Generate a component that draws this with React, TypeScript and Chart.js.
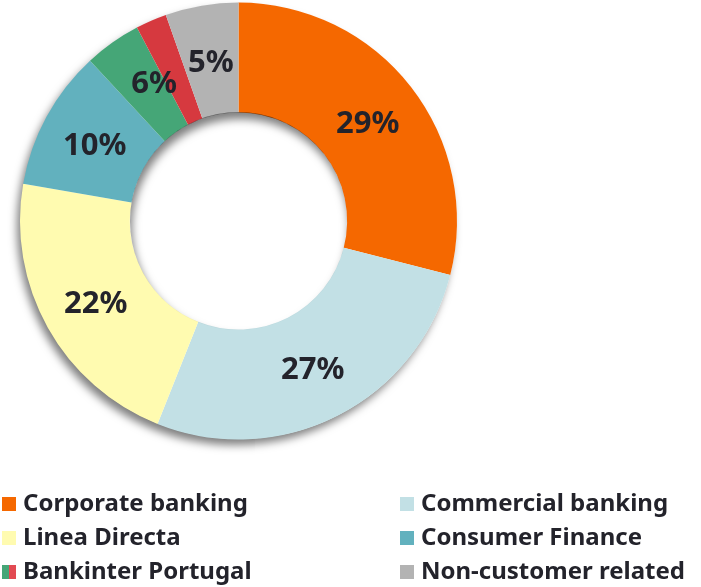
import React, { useEffect, useRef, useState } from "react";
import { Chart, registerables } from "chart.js";

Chart.register(...registerables);

// ---- Data ----
const sliceNames = [
  "Corporate banking",
  "Commercial banking",
  "Linea Directa",
  "Consumer Finance",
  "Bankinter Portugal (1)",
  "Bankinter Portugal (2)",
  "Non-customer related",
];
const sliceValues = [29, 27.1, 21.7, 10.4, 4.2, 2.3, 5.4];
const sliceColors = ["#F56800", "#C2E0E5", "#FFFBB0", "#62B1BE", "#45A677", "#D6393F", "#B3B3B3"];

const labelGroups = [[0], [1], [2], [3], [4, 5], [6]];
const groupLabels = ["29%", "27%", "22%", "10%", "6%", "5%"];

const legendNames = [
  "Corporate banking",
  "Commercial banking",
  "Linea Directa",
  "Consumer Finance",
  "Bankinter Portugal",
  "Non-customer related",
];
const legendColors = [["#F56800"], ["#C2E0E5"], ["#FFFBB0"], ["#62B1BE"], ["#45A677", "#E24A52"], ["#B3B3B3"]];

const FONT = '"Noto Sans", "DejaVu Sans", sans-serif';
const TEXT_COLOR = "#23232B";

const decorPlugin = {
  id: "decor",
  afterDatasetsDraw(chart: any) {
    const ctx = chart.ctx as CanvasRenderingContext2D;
    const arcs = chart.getDatasetMeta(0).data as any[];
    const a = arcs[0];
    if (!a) return;
    const x = a.x;
    const y = a.y;
    const rMid = (a.outerRadius + a.innerRadius) / 2;

    // percentage labels
    ctx.save();
    ctx.font = "bold 31px " + FONT;
    ctx.fillStyle = TEXT_COLOR;
    ctx.textAlign = "center";
    ctx.textBaseline = "alphabetic";
    labelGroups.forEach((grp, i) => {
      const a0 = arcs[grp[0]].startAngle;
      const a1 = arcs[grp[grp.length - 1]].endAngle;
      const mid = (a0 + a1) / 2;
      ctx.fillText(groupLabels[i], x + Math.cos(mid) * rMid, y + Math.sin(mid) * rMid + 12);
    });
    ctx.restore();

    // legend
    ctx.save();
    ctx.font = "bold 24px " + FONT;
    ctx.textAlign = "left";
    ctx.textBaseline = "alphabetic";
    const colX = [2, 400];
    const rowBase = [511, 545, 579];
    legendNames.forEach((name, i) => {
      const col = i % 2;
      const row = Math.floor(i / 2);
      const mx = colX[col];
      const my = rowBase[row] - 14;
      const cols = legendColors[i];
      const w = 14 / cols.length;
      cols.forEach((c, k) => {
        ctx.fillStyle = c;
        ctx.fillRect(mx + k * w, my, w, 14);
      });
      ctx.fillStyle = TEXT_COLOR;
      ctx.fillText(name, mx + 21, rowBase[row]);
    });
    ctx.restore();
  },
};

type Geo = { x: number; y: number; R: number; ri: number };

export default function App() {
  const canvasRef = useRef<HTMLCanvasElement | null>(null);
  const [geo, setGeo] = useState<Geo | null>(null);

  useEffect(() => {
    document.body.style.margin = "0";
    if (!canvasRef.current) return;
    const chart = new Chart(canvasRef.current, {
      type: "doughnut",
      data: {
        labels: sliceNames,
        datasets: [{ data: sliceValues, backgroundColor: sliceColors, borderWidth: 0 }],
      },
      options: {
        animation: false,
        responsive: true,
        maintainAspectRatio: false,
        cutout: "49.7%",
        layout: { padding: { left: 20, top: 2.5, right: 244, bottom: 147.5 } },
        plugins: { legend: { display: false }, tooltip: { enabled: false } },
      },
      plugins: [decorPlugin],
    });
    const a = chart.getDatasetMeta(0).data[0] as any;
    if (a) setGeo({ x: a.x, y: a.y, R: a.outerRadius, ri: a.innerRadius });
    return () => chart.destroy();
  }, []);

  return (
    <div style={{ position: "relative", width: 701, height: 587 }}>
      {geo && (
        <div
          style={{
            position: "absolute",
            left: geo.x - geo.R + 0.5,
            top: geo.y - geo.R + 0.5,
            width: 2 * geo.R - 1,
            height: 2 * geo.R - 1,
            borderRadius: "50%",
            background: "#ffffff",
            boxShadow: "-4px 6px 8px rgba(0,0,0,0.5)",
            zIndex: 0,
          }}
        />
      )}
      <canvas ref={canvasRef} style={{ position: "absolute", left: 0, top: 0, zIndex: 1 }} />
      {geo && (
        <div
          style={{
            position: "absolute",
            left: geo.x - geo.ri,
            top: geo.y - geo.ri,
            width: 2 * geo.ri,
            height: 2 * geo.ri,
            borderRadius: "50%",
            boxShadow: "inset 2px 7px 9px rgba(0,0,0,0.5)",
            zIndex: 2,
            pointerEvents: "none",
          }}
        />
      )}
    </div>
  );
}
